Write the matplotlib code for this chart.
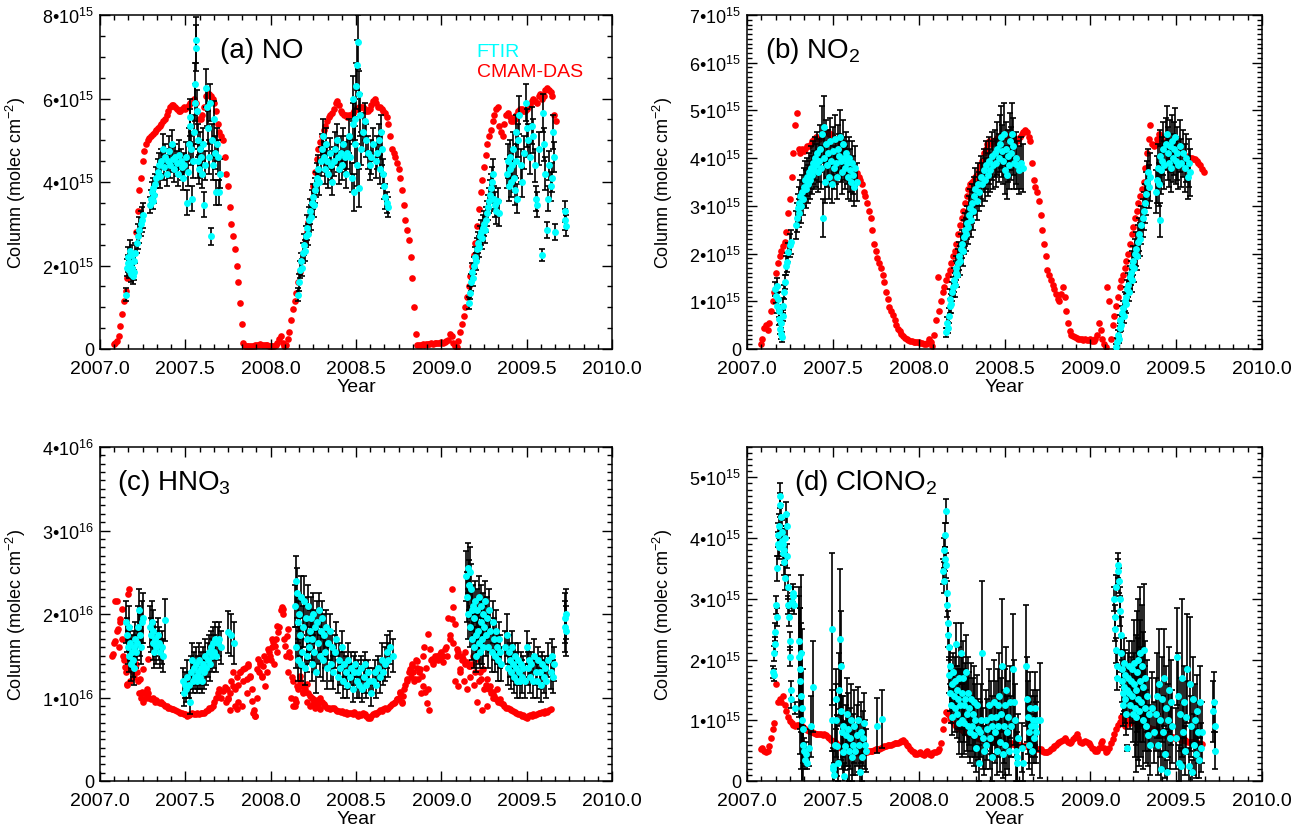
import numpy as np
import matplotlib
matplotlib.use('Agg')
import matplotlib.pyplot as plt
from matplotlib.ticker import MultipleLocator, FuncFormatter

plt.rcParams['font.family'] = ['Liberation Sans', 'DejaVu Sans']
plt.rcParams['mathtext.fontset'] = 'custom'
plt.rcParams['mathtext.rm'] = 'Liberation Sans'
plt.rcParams['mathtext.it'] = 'Liberation Sans:italic'
plt.rcParams['mathtext.bf'] = 'Liberation Sans:bold'

STEP = 0.01  # spacing of the model (CMAM-DAS) output, years

# ---------------- (a) NO, 1e15 molec cm-2 ----------------
red_no_start = 2007.08
red_no = [
    0.12, 0.15,
    0.2, 0.3, 0.55, 0.85, 1.15, 1.4, 1.7, 1.9, 2.0, 2.1,
    2.3, 2.8, 3.3, 3.8, 4.1, 4.5, 4.75, 4.9, 5.0, 5.05,
    5.1, 5.15, 5.2, 5.25, 5.3, 5.35, 5.4, 5.45, 5.5, 5.6,
    5.7, 5.8, 5.85, 5.85, 5.8, 5.75, 5.7, 5.7, 5.75, 5.8,
    5.75, 5.8, 5.85, 5.9, 5.95, 6.0, 5.9, 5.7, 5.5, 5.5,
    5.6, 5.8, 6.05, 6.1, 6.1, 6.05, 6.0, 5.9, 5.7, 5.4,
    5.2, 5.1, 5.0, 4.6, 4.2, 3.9, 3.4, 3.0, 2.7, 2.4,
    2.0, 1.6, 1.1, 0.6, 0.15, 0.08, 0.08, 0.07, 0.08, 0.06,
    0.08, 0.1, 0.09, 0.1, 0.12, 0.1, 0.1, 0.09, 0.1, 0.08,
    0.07, 0.06, 0.08, 0.1, 0.15, 0.25, 0.3, 0.15, 0.08, 0.1,
    0.25, 0.4, 0.7, 0.95, 1.15, 1.35, 1.6, 1.85, 2.1, 2.3,
    2.55, 2.8, 3.05, 3.3, 3.6, 3.9, 4.25, 4.55, 4.8, 4.95,
    5.1, 5.25, 5.35, 5.45, 5.55, 5.6, 5.65, 5.75, 5.9, 5.95,
    5.85, 5.7, 5.65, 5.6, 5.6, 5.55, 5.6, 5.6, 5.65, 5.7,
    5.75, 5.75, 5.8, 5.8, 5.8, 5.75, 5.7, 5.7, 5.75, 5.85,
    5.95, 6.0, 5.9, 5.8, 5.8, 5.75, 5.7, 5.65, 5.55, 5.4,
    5.1, 4.8, 4.7, 4.6, 4.45, 4.3, 4.1, 3.8, 3.45, 3.1,
    2.85, 2.6, 2.2, 1.7, 1.0, 0.35, 0.1, 0.1, 0.1, 0.12,
    0.1, 0.12, 0.13, 0.12, 0.14, 0.13, 0.15, 0.14, 0.15, 0.14,
    0.16, 0.15, 0.16, 0.18, 0.22, 0.35, 0.3, 0.15, 0.08, 0.05,
    0.2, 0.4, 0.6, 0.8, 1.0, 1.25, 1.5, 1.75, 2.0, 2.25,
    2.55, 2.95, 3.35, 3.75, 4.05, 4.35, 4.65, 4.9, 5.1, 5.25,
    5.45, 5.6, 5.75, 5.8, 5.35, 5.2, 5.1, 5.4, 5.6, 5.65,
    5.55, 5.45, 5.45, 5.5, 5.6, 5.7, 5.75, 5.75, 5.7, 5.7,
    5.75, 5.8, 5.85, 5.95, 6.0, 5.95, 5.9, 6.05, 6.1, 6.0,
    6.05, 6.2, 6.25, 6.2, 6.15, 6.05, 5.6, 5.45,
]
ftir_no_year = [
    2007.152, 2007.158, 2007.162, 2007.166, 2007.170, 2007.174, 2007.178, 2007.182, 2007.186, 2007.190,
    2007.194, 2007.198, 2007.202, 2007.206, 2007.214, 2007.222, 2007.230, 2007.238, 2007.246, 2007.254,
    2007.293, 2007.298, 2007.303, 2007.308, 2007.313, 2007.318, 2007.323, 2007.330, 2007.338, 2007.345,
    2007.352, 2007.360, 2007.368, 2007.375, 2007.383, 2007.390, 2007.398, 2007.405, 2007.412, 2007.420,
    2007.428, 2007.435, 2007.442, 2007.450, 2007.458, 2007.465, 2007.472, 2007.480, 2007.488, 2007.495,
    2007.502,
    2007.510, 2007.515, 2007.520, 2007.525, 2007.530, 2007.535, 2007.540, 2007.545, 2007.550, 2007.555,
    2007.558, 2007.561, 2007.564, 2007.568, 2007.572, 2007.576, 2007.580, 2007.585,
    2007.592, 2007.598, 2007.604, 2007.610, 2007.616, 2007.622, 2007.628, 2007.634, 2007.640, 2007.646,
    2007.652, 2007.658, 2007.664, 2007.670, 2007.676, 2007.682, 2007.688, 2007.694, 2007.700, 2007.706,
    2008.160, 2008.166, 2008.172, 2008.178, 2008.184, 2008.190, 2008.196, 2008.202, 2008.208, 2008.214,
    2008.220, 2008.226, 2008.232, 2008.238, 2008.244, 2008.250, 2008.256, 2008.262, 2008.268, 2008.274,
    2008.280, 2008.286, 2008.292, 2008.298, 2008.304, 2008.310, 2008.316, 2008.322, 2008.330, 2008.338,
    2008.346, 2008.354, 2008.362, 2008.370, 2008.378, 2008.386, 2008.394, 2008.402, 2008.410, 2008.418,
    2008.426, 2008.434, 2008.442, 2008.450, 2008.458, 2008.466, 2008.474, 2008.480, 2008.484, 2008.488,
    2008.492, 2008.496, 2008.500, 2008.504, 2008.508, 2008.512, 2008.516, 2008.520, 2008.524, 2008.530,
    2008.540, 2008.550, 2008.560, 2008.570, 2008.580, 2008.590, 2008.600, 2008.615, 2008.625, 2008.635,
    2008.642, 2008.648, 2008.654, 2008.660, 2008.666, 2008.672, 2008.680, 2008.688,
    2009.160, 2009.166, 2009.172, 2009.178, 2009.184, 2009.190, 2009.196, 2009.202, 2009.208, 2009.214,
    2009.220, 2009.226, 2009.232, 2009.238, 2009.244, 2009.250, 2009.256, 2009.262, 2009.268, 2009.274,
    2009.280, 2009.286, 2009.292, 2009.298, 2009.304, 2009.310, 2009.316, 2009.322, 2009.330, 2009.338,
    2009.385, 2009.390, 2009.395, 2009.400, 2009.405, 2009.410, 2009.415, 2009.420, 2009.425, 2009.430,
    2009.435, 2009.440, 2009.445, 2009.450, 2009.455, 2009.465, 2009.475, 2009.485, 2009.495, 2009.500,
    2009.510, 2009.520, 2009.530, 2009.540, 2009.548, 2009.556, 2009.562, 2009.575, 2009.588, 2009.596,
    2009.602, 2009.610, 2009.617, 2009.624, 2009.632, 2009.640, 2009.647, 2009.656, 2009.660, 2009.666,
    2009.722, 2009.725, 2009.728,
]
ftir_no_val = [
    1.3, 1.95, 2.05, 2.2, 1.9, 2.35, 2.05, 1.8, 2.25, 1.95,
    1.75, 2.1, 1.85, 2.3, 2.55, 2.7, 2.85, 3.0, 3.1, 3.2,
    3.45, 3.6, 3.75, 3.55, 3.85, 3.7, 3.95, 4.1, 4.25, 4.4,
    4.15, 4.5, 4.8, 4.35, 4.6, 4.2, 4.5, 4.75, 4.4, 4.9,
    4.55, 4.3, 4.6, 4.45, 4.2, 4.65, 4.5, 4.35, 4.1, 4.4,
    4.6,
    3.5, 4.25, 4.9, 5.35, 5.55, 4.8, 3.6, 4.5, 5.2, 5.9,
    6.35, 7.2, 7.4, 5.7, 4.5, 5.0, 4.3, 4.8,
    4.6, 4.2, 4.9, 3.45, 4.4, 6.25, 5.8, 5.3, 4.6, 5.9,
    2.7, 5.0, 4.4, 5.5, 4.7, 3.75, 4.9, 4.6, 3.75, 4.2,
    1.3, 1.6, 1.9, 2.1, 1.95, 2.3, 2.5, 2.35, 2.7, 2.9,
    2.75, 3.1, 3.3, 3.15, 3.5, 3.65, 3.45, 3.8, 3.95, 4.1,
    4.3, 4.0, 4.5, 4.8, 5.1, 4.6, 4.3, 4.9, 4.5, 4.2,
    4.7, 4.4, 4.0, 4.5, 4.8, 5.0, 4.6, 4.3, 4.7, 4.4,
    4.9, 4.6, 4.2, 4.7, 5.1, 4.6, 4.1, 5.4, 6.0, 3.75,
    4.9, 5.5, 6.3, 4.4, 6.8, 7.35, 6.1, 3.85, 5.6, 4.8,
    5.2, 5.45, 5.0, 4.7, 4.4, 4.6, 4.9, 4.5, 4.7, 5.0,
    4.3, 5.2, 4.8, 4.2, 3.9, 3.65, 3.5, 3.4,
    1.1, 1.35, 1.6, 1.85, 1.7, 2.0, 2.2, 2.1, 2.4, 2.55,
    2.45, 2.7, 2.8, 2.65, 2.9, 3.0, 2.85, 3.1, 3.25, 3.4,
    3.55, 3.7, 3.85, 4.0, 4.2, 3.6, 3.45, 3.3, 3.55, 3.25,
    4.2, 4.5, 3.9, 4.3, 4.6, 4.0, 4.4, 4.8, 4.1, 3.8,
    5.2, 4.5, 3.6, 5.0, 5.6, 4.4, 4.0, 4.7, 5.9, 5.3,
    5.0, 4.6, 5.35, 5.1, 4.4, 3.6, 3.45, 4.8, 2.25, 5.65,
    4.9, 4.2, 2.85, 3.6, 4.4, 3.9, 4.1, 5.2, 4.6, 2.8,
    3.1, 3.3, 2.95,
]
ftir_no_err = [
    0.15, 0.2, 0.2, 0.25, 0.2, 0.25, 0.2, 0.2, 0.25, 0.2,
    0.2, 0.2, 0.2, 0.25, 0.25, 0.3, 0.3, 0.3, 0.3, 0.3,
    0.2, 0.2, 0.25, 0.2, 0.25, 0.2, 0.25, 0.25, 0.3, 0.3,
    0.3, 0.3, 0.35, 0.3, 0.3, 0.3, 0.3, 0.35, 0.3, 0.35,
    0.3, 0.3, 0.3, 0.3, 0.3, 0.35, 0.3, 0.3, 0.3, 0.3,
    0.35,
    0.3, 0.35, 0.4, 0.4, 0.45, 0.4, 0.3, 0.4, 0.4, 0.45,
    0.5, 0.55, 0.55, 0.5, 0.4, 0.4, 0.35, 0.4,
    0.4, 0.35, 0.4, 0.3, 0.35, 0.45, 0.45, 0.4, 0.4, 0.45,
    0.2, 0.4, 0.35, 0.45, 0.4, 0.3, 0.4, 0.4, 0.3, 0.35,
    0.15, 0.2, 0.2, 0.2, 0.2, 0.25, 0.25, 0.25, 0.25, 0.3,
    0.25, 0.3, 0.3, 0.3, 0.3, 0.3, 0.3, 0.3, 0.3, 0.35,
    0.35, 0.3, 0.35, 0.35, 0.4, 0.35, 0.35, 0.4, 0.35, 0.35,
    0.35, 0.35, 0.3, 0.35, 0.4, 0.4, 0.35, 0.35, 0.4, 0.35,
    0.4, 0.35, 0.35, 0.4, 0.4, 0.4, 0.35, 0.5, 0.55, 0.45,
    0.45, 0.5, 0.55, 0.5, 0.6, 0.65, 0.55, 0.45, 0.5, 0.4,
    0.45, 0.45, 0.4, 0.4, 0.35, 0.4, 0.4, 0.4, 0.4, 0.4,
    0.35, 0.4, 0.4, 0.35, 0.3, 0.3, 0.25, 0.25,
    0.15, 0.15, 0.2, 0.2, 0.2, 0.2, 0.25, 0.2, 0.25, 0.25,
    0.25, 0.25, 0.3, 0.25, 0.3, 0.3, 0.3, 0.3, 0.3, 0.3,
    0.3, 0.35, 0.35, 0.35, 0.35, 0.3, 0.3, 0.3, 0.3, 0.3,
    0.35, 0.4, 0.35, 0.35, 0.4, 0.35, 0.35, 0.4, 0.35, 0.35,
    0.4, 0.4, 0.35, 0.4, 0.45, 0.4, 0.35, 0.4, 0.45, 0.45,
    0.4, 0.4, 0.45, 0.4, 0.4, 0.3, 0.3, 0.4, 0.15, 0.45,
    0.4, 0.4, 0.2, 0.3, 0.35, 0.35, 0.35, 0.4, 0.35, 0.2,
    0.25, 0.25, 0.25,
]

# ---------------- (b) NO2, 1e15 molec cm-2 ----------------
red_no2_start = 2007.08
red_no2 = [
    0.1, 0.2,
    0.45, 0.5, 0.4, 0.55, 0.8, 1.0, 1.2, 1.6, 1.8, 1.95,
    2.05, 2.15, 2.25, 2.45, 2.85, 3.15, 3.6, 4.1, 4.7, 4.95,
    4.2, 4.1, 4.2, 4.15, 4.2, 4.25, 4.25, 4.3, 4.35, 4.4,
    4.45, 4.45, 4.4, 4.45, 4.5, 4.55, 4.55, 4.55, 4.5, 4.5,
    4.45, 4.4, 4.4, 4.35, 4.25, 4.2, 4.15, 4.1, 4.05, 4.0,
    3.9, 3.85, 3.78, 3.72, 3.68, 3.6, 3.55, 3.45, 3.3, 3.2,
    3.05, 2.9, 2.75, 2.5, 2.2, 2.05, 1.9, 1.8, 1.7, 1.55,
    1.4, 1.2, 1.05, 0.88, 0.8, 0.72, 0.6, 0.5, 0.42, 0.38,
    0.32, 0.28, 0.24, 0.21, 0.19, 0.17, 0.16, 0.15, 0.15, 0.14,
    0.14, 0.13, 0.12, 0.1, 0.1, 0.12, 0.2, 0.15, 0.06, 0.3,
    0.6, 1.5, 0.8, 1.0, 1.2, 1.3, 1.45, 1.55, 1.65, 1.8,
    1.95, 2.05, 2.2, 2.4, 2.6, 2.75, 2.9, 3.05, 3.2, 3.35,
    3.45, 3.5, 3.55, 3.6, 3.65, 3.75, 3.85, 3.95, 4.1, 4.2,
    4.3, 4.35, 4.3, 4.35, 4.35, 4.4, 4.45, 4.4, 4.45, 4.5,
    4.45, 4.5, 4.45, 4.4, 4.4, 4.45, 4.4, 4.35, 4.4, 4.45,
    4.5, 4.55, 4.6, 4.55, 4.45, 4.35, 3.9, 3.55, 3.4, 3.3,
    3.1, 2.8, 2.5, 2.2, 1.95, 1.65, 1.55, 1.45, 1.35, 1.25,
    1.15, 1.05, 1.0, 1.15, 1.3, 1.1, 0.8, 0.55, 0.38, 0.3,
    0.27, 0.25, 0.24, 0.22, 0.2, 0.2, 0.19, 0.2, 0.18, 0.19,
    0.2, 0.17, 0.17, 0.2, 0.3, 0.55, 0.4, 0.2, 0.1, 0.05,
    1.3, 1.0, 0.2, 0.5, 0.7, 0.9, 1.1, 1.3, 1.45, 1.55,
    1.7, 1.85, 2.0, 2.2, 2.4, 2.55, 2.75, 2.9, 3.05, 3.2,
    3.35, 3.5, 3.8, 4.1, 4.4, 4.7, 4.3, 4.25, 4.3, 4.4,
    4.5, 4.45, 4.35, 4.3, 4.3, 4.35, 4.3, 4.3, 4.35, 4.3,
    4.25, 4.2, 4.15, 4.1, 4.1, 4.05, 4.05, 4.0, 4.0, 4.0,
    3.98, 3.98, 3.95, 3.9, 3.85, 3.78, 3.7,
]
ftir_no2_year = [
    2007.163, 2007.168, 2007.172, 2007.176, 2007.180, 2007.184, 2007.188, 2007.192, 2007.196, 2007.200,
    2007.204, 2007.208, 2007.212, 2007.216, 2007.220, 2007.226, 2007.232, 2007.240, 2007.248, 2007.256,
    2007.285, 2007.290, 2007.295, 2007.300, 2007.305, 2007.310, 2007.315, 2007.320, 2007.325, 2007.330,
    2007.336, 2007.342, 2007.348, 2007.354, 2007.360, 2007.366, 2007.372, 2007.378, 2007.384, 2007.390,
    2007.396, 2007.402, 2007.408, 2007.414, 2007.420, 2007.426, 2007.432, 2007.438, 2007.442, 2007.446,
    2007.450, 2007.455, 2007.460, 2007.465, 2007.470, 2007.476, 2007.482, 2007.488, 2007.494, 2007.500,
    2007.506, 2007.512, 2007.518, 2007.524, 2007.530, 2007.536, 2007.542, 2007.548, 2007.554, 2007.560,
    2007.566, 2007.572, 2007.578, 2007.584, 2007.590, 2007.596, 2007.602, 2007.608, 2007.614, 2007.620,
    2007.626, 2007.632, 2007.638,
    2008.162, 2008.166, 2008.170, 2008.175, 2008.180, 2008.185, 2008.190, 2008.195, 2008.200, 2008.205,
    2008.210, 2008.215, 2008.220, 2008.225, 2008.230, 2008.235, 2008.240, 2008.245, 2008.250, 2008.256,
    2008.262, 2008.268, 2008.274, 2008.280, 2008.286, 2008.292, 2008.298, 2008.304, 2008.310, 2008.316,
    2008.322, 2008.330, 2008.338, 2008.346, 2008.354, 2008.362, 2008.370, 2008.378, 2008.386, 2008.394,
    2008.402, 2008.410, 2008.418, 2008.426, 2008.434, 2008.442, 2008.450, 2008.458, 2008.466, 2008.474,
    2008.480, 2008.486, 2008.492, 2008.498, 2008.504, 2008.510, 2008.516, 2008.522, 2008.528, 2008.534,
    2008.540, 2008.546, 2008.552, 2008.558, 2008.566, 2008.575, 2008.585, 2008.595, 2008.605,
    2009.150, 2009.155, 2009.160, 2009.165, 2009.170, 2009.175, 2009.180, 2009.185, 2009.190, 2009.195,
    2009.200, 2009.205, 2009.210, 2009.215, 2009.220, 2009.225, 2009.230, 2009.235, 2009.240, 2009.245,
    2009.250, 2009.256, 2009.262, 2009.268, 2009.274, 2009.280, 2009.286, 2009.292, 2009.298, 2009.304,
    2009.310, 2009.316, 2009.322, 2009.328, 2009.334, 2009.340, 2009.346, 2009.380, 2009.386, 2009.392,
    2009.398, 2009.404, 2009.408, 2009.414, 2009.420, 2009.426, 2009.432, 2009.438, 2009.444, 2009.450,
    2009.456, 2009.462, 2009.468, 2009.474, 2009.480, 2009.486, 2009.492, 2009.498, 2009.504, 2009.510,
    2009.520, 2009.530, 2009.540, 2009.550, 2009.560, 2009.570, 2009.575, 2009.580,
]
ftir_no2_val = [
    1.26, 1.12, 1.33, 0.91, 1.05, 0.63, 0.8, 0.42, 0.55, 0.31,
    0.25, 0.7, 0.91, 1.19, 1.4, 1.75, 1.82, 2.03, 2.17, 2.24,
    2.6, 2.75, 2.95, 2.85, 3.05, 3.2, 3.0, 3.3, 3.15, 3.4,
    3.55, 3.35, 3.6, 3.45, 3.7, 3.55, 3.8, 3.65, 3.9, 3.75,
    4.0, 3.85, 4.1, 3.7, 3.95, 4.2, 3.8, 4.5, 2.75, 4.65,
    4.0, 3.5, 4.3, 3.85, 4.1, 3.6, 4.35, 3.95, 3.45, 4.15,
    3.8, 4.4, 3.9, 3.6, 4.2, 4.05, 4.45, 3.95, 3.7, 4.3,
    4.0, 3.8, 4.1, 3.9, 3.6, 4.0, 3.75, 3.5, 3.9, 3.65,
    3.4, 3.8, 3.5,
    0.35, 0.55, 0.45, 0.7, 0.9, 1.05, 0.95, 1.2, 1.3, 1.45,
    1.35, 1.6, 1.7, 1.55, 1.8, 1.95, 1.85, 2.1, 2.2, 2.05,
    2.35, 2.5, 2.4, 2.65, 2.55, 2.8, 2.95, 2.7, 3.05, 2.9,
    3.2, 3.35, 3.1, 3.45, 3.3, 3.6, 3.45, 3.75, 3.55, 3.85,
    3.65, 3.95, 3.75, 4.05, 3.85, 4.1, 3.9, 4.2, 4.0, 4.3,
    4.45, 4.15, 3.95, 4.5, 3.75, 4.2, 3.65, 4.05, 3.85, 4.35,
    4.1, 4.5, 4.25, 3.9, 4.0, 3.85, 3.75, 3.9, 3.8,
    0.05, 0.15, 0.3, 0.2, 0.45, 0.6, 0.5, 0.75, 0.85, 0.7,
    1.0, 1.1, 0.95, 1.25, 1.35, 1.2, 1.5, 1.6, 1.45, 1.75,
    1.85, 1.7, 2.0, 2.1, 1.95, 2.25, 2.4, 2.3, 2.6, 2.75,
    2.9, 3.05, 3.25, 3.5, 3.7, 3.4, 3.6, 3.3, 3.55, 3.8,
    3.45, 2.7, 4.05, 3.75, 3.95, 4.2, 3.85, 4.3, 4.5, 4.1,
    3.9, 4.25, 3.8, 4.35, 4.0, 4.2, 4.45, 3.95, 4.1, 3.85,
    4.25, 3.9, 4.1, 3.8, 4.0, 3.6, 3.9, 3.7,
]
ftir_no2_err = [
    0.15, 0.15, 0.15, 0.15, 0.15, 0.12, 0.12, 0.1, 0.1, 0.1,
    0.1, 0.12, 0.15, 0.15, 0.15, 0.2, 0.2, 0.2, 0.25, 0.25,
    0.3, 0.3, 0.3, 0.3, 0.35, 0.35, 0.35, 0.35, 0.35, 0.4,
    0.4, 0.4, 0.4, 0.4, 0.4, 0.4, 0.45, 0.4, 0.45, 0.4,
    0.45, 0.45, 0.45, 0.4, 0.45, 0.5, 0.45, 0.6, 0.4, 0.65,
    0.5, 0.45, 0.5, 0.45, 0.5, 0.45, 0.5, 0.45, 0.4, 0.5,
    0.45, 0.5, 0.45, 0.45, 0.5, 0.45, 0.55, 0.45, 0.45, 0.5,
    0.45, 0.45, 0.45, 0.45, 0.45, 0.45, 0.45, 0.4, 0.45, 0.4,
    0.4, 0.45, 0.4,
    0.1, 0.12, 0.12, 0.15, 0.15, 0.2, 0.2, 0.2, 0.2, 0.25,
    0.25, 0.25, 0.25, 0.25, 0.3, 0.3, 0.3, 0.3, 0.3, 0.3,
    0.35, 0.35, 0.35, 0.35, 0.35, 0.4, 0.4, 0.35, 0.4, 0.4,
    0.4, 0.45, 0.4, 0.45, 0.4, 0.45, 0.45, 0.45, 0.45, 0.5,
    0.45, 0.5, 0.45, 0.5, 0.5, 0.5, 0.5, 0.55, 0.5, 0.6,
    0.65, 0.55, 0.5, 0.65, 0.5, 0.55, 0.5, 0.55, 0.5, 0.6,
    0.55, 0.65, 0.6, 0.55, 0.55, 0.5, 0.5, 0.55, 0.5,
    0.05, 0.08, 0.1, 0.08, 0.1, 0.12, 0.12, 0.15, 0.15, 0.15,
    0.2, 0.2, 0.2, 0.2, 0.25, 0.2, 0.25, 0.25, 0.25, 0.3,
    0.3, 0.3, 0.3, 0.35, 0.3, 0.35, 0.35, 0.35, 0.4, 0.4,
    0.4, 0.4, 0.45, 0.45, 0.5, 0.45, 0.5, 0.45, 0.5, 0.5,
    0.45, 0.35, 0.55, 0.5, 0.5, 0.55, 0.5, 0.55, 0.6, 0.55,
    0.5, 0.55, 0.5, 0.55, 0.5, 0.55, 0.6, 0.5, 0.55, 0.5,
    0.55, 0.5, 0.5, 0.5, 0.5, 0.45, 0.5, 0.5,
]

# ---------------- (c) HNO3, 1e16 molec cm-2 ----------------
red_hno3_start = 2007.07
red_hno3 = [
    1.5, 1.65, 2.15,
    1.8, 1.6, 1.9, 1.7, 1.45, 1.3, 1.15, 2.3, 1.35, 1.5,
    1.25, 1.4, 1.2, 1.05, 1.0, 0.95, 1.05, 1.0, 1.05, 1.0,
    0.98, 1.0, 0.95, 0.97, 0.95, 0.93, 0.95, 0.92, 0.9, 0.9,
    0.88, 0.88, 0.86, 0.86, 0.85, 0.84, 0.83, 0.82, 0.81, 0.8,
    0.8, 0.78, 0.79, 0.8, 0.81, 0.8, 0.8, 0.81, 0.8, 0.82,
    0.81, 0.82, 0.84, 0.85, 0.87, 0.88, 0.9, 0.95, 1.0, 1.05,
    1.1, 1.0, 1.08, 1.12, 0.95, 1.0, 0.85, 1.2, 1.3, 1.1,
    1.25, 1.15, 1.3, 0.9, 1.2, 1.35, 1.05, 1.4, 1.25, 1.1,
    0.85, 0.78, 1.0, 1.3, 1.4, 1.25, 1.5, 1.45, 1.3, 1.55,
    1.45, 1.6, 1.4, 1.7, 1.55, 1.85, 2.05, 2.0, 1.7, 1.5,
    1.3, 1.55, 1.0, 1.2, 0.9, 0.95, 1.1, 1.2, 1.15, 1.05,
    1.1, 0.95, 1.05, 0.9, 1.0, 0.92, 0.88, 0.97, 0.9, 1.0,
    0.95, 0.92, 0.9, 0.88, 0.87, 0.86, 0.88, 0.87, 0.85, 0.84,
    0.84, 0.83, 0.84, 0.82, 0.83, 0.8, 0.82, 0.81, 0.8, 0.83,
    0.8, 0.78, 0.8, 0.79, 0.82, 0.8, 0.78, 0.76, 0.75, 0.78,
    0.8, 0.82, 0.8, 0.83, 0.85, 0.84, 0.86, 0.87, 0.86, 0.88,
    0.9, 0.92, 0.94, 0.95, 0.98, 1.0, 1.05, 0.95, 1.1, 1.15,
    1.2, 1.3, 1.25, 1.4, 1.2, 1.45, 1.35, 1.3, 1.05, 1.5,
    1.6, 1.35, 1.1, 0.85, 1.45, 1.4, 1.5, 1.48, 1.45, 1.52,
    1.55, 1.5, 1.58, 1.6, 1.95, 1.75, 2.3, 1.65, 1.2, 1.5,
    1.55, 1.3, 1.45, 1.2, 1.4, 1.1, 1.38, 1.25, 1.4, 1.15,
    1.3, 0.95, 1.2, 1.22, 0.85, 1.1, 1.15, 0.9, 1.1, 1.05,
    1.0, 1.02, 0.98, 0.95, 0.96, 0.93, 0.92, 0.9, 0.88, 0.87,
    0.86, 0.85, 0.84, 0.83, 0.82, 0.8, 0.8, 0.78, 0.79, 0.77,
    0.76, 0.78, 0.79, 0.78, 0.8, 0.79, 0.8, 0.81, 0.82, 0.83,
    0.82, 0.84, 0.83, 0.85, 0.86,
]
# scattered model days in the noisy spring/autumn periods
red_hno3_extra_year = [
    2007.078, 2007.088, 2007.098, 2007.107, 2007.117, 2007.127, 2007.137, 2007.146, 2007.156, 2007.166,
    2007.176, 2007.195, 2007.215, 2007.234, 2007.244, 2007.254, 2007.273, 2007.283,
    2007.742, 2007.752, 2007.762, 2007.781, 2007.791, 2007.801, 2007.811, 2007.820, 2007.840, 2007.859,
    2007.869, 2007.879, 2007.889, 2007.898, 2007.908, 2007.918, 2007.928, 2007.938, 2007.947, 2007.957,
    2007.967, 2007.977, 2007.986, 2007.996, 2008.006, 2008.016, 2008.025, 2008.035, 2008.045, 2008.064,
    2008.074, 2008.084, 2008.094, 2008.104, 2008.113, 2008.123, 2008.133, 2008.143, 2008.152, 2008.172,
    2008.182, 2008.191, 2008.211, 2008.230, 2008.250, 2008.270, 2008.289,
    2008.738, 2008.758, 2008.768, 2008.777, 2008.797, 2008.816, 2008.826, 2008.836, 2008.846, 2008.855,
    2008.865, 2008.875, 2008.885, 2008.895, 2008.904, 2008.914, 2008.924, 2008.934, 2008.943, 2008.953,
    2008.973, 2008.992, 2009.012, 2009.031, 2009.051, 2009.061, 2009.070, 2009.080, 2009.090, 2009.100,
    2009.109, 2009.119, 2009.129, 2009.139, 2009.148, 2009.168, 2009.188, 2009.207, 2009.227, 2009.246,
    2009.266, 2009.285, 2009.305, 2009.324, 2009.344,
]
red_hno3_extra_val = [
    1.52, 1.68, 2.16, 1.82, 1.94, 2.06, 1.5, 1.36, 1.16, 2.24,
    1.2, 1.3, 1.3, 1.22, 1.06, 1.34, 1.1, 1.46,
    1.1, 0.98, 1.05, 1.14, 0.9, 0.86, 0.95, 1.3, 1.34, 1.22,
    1.38, 1.26, 0.96, 0.82, 0.78, 1.34, 1.46, 1.42, 1.26, 1.38,
    1.14, 1.46, 1.58, 1.5, 1.7, 1.66, 1.62, 1.86, 1.78, 2.08,
    2.06, 1.62, 1.74, 1.82, 1.48, 1.24, 0.9, 0.98, 1.14, 1.26,
    1.14, 1.06, 1.16, 1.02, 0.98, 0.94, 0.86,
    0.98, 1.06, 0.94, 1.02, 1.22, 1.34, 1.38, 1.3, 1.22, 1.44,
    1.22, 1.34, 1.26, 1.14, 1.06, 0.94, 1.76, 1.58, 1.46, 1.42,
    1.5, 1.46, 1.42, 1.5, 1.7, 1.94, 2.08, 1.88, 1.58, 1.14,
    1.34, 1.5, 1.46, 1.54, 1.42, 1.38, 1.5, 1.46, 1.3, 1.34,
    1.22, 1.14, 1.06, 1.1, 0.98,
]
ftir_hno3_year = [
    2007.152, 2007.157, 2007.162, 2007.167, 2007.172, 2007.177, 2007.182, 2007.187, 2007.192, 2007.197,
    2007.202, 2007.207, 2007.212, 2007.217, 2007.222, 2007.227, 2007.232, 2007.238, 2007.244, 2007.250,
    2007.293, 2007.298, 2007.303, 2007.308, 2007.313, 2007.318, 2007.323, 2007.330, 2007.338, 2007.346,
    2007.354, 2007.362, 2007.370, 2007.381,
    2007.488, 2007.492, 2007.497, 2007.505, 2007.512, 2007.520, 2007.527, 2007.533, 2007.540, 2007.546,
    2007.552, 2007.558, 2007.564, 2007.570, 2007.576, 2007.582, 2007.588, 2007.594, 2007.600, 2007.606,
    2007.612, 2007.618, 2007.624, 2007.630, 2007.636, 2007.642, 2007.648, 2007.654, 2007.660, 2007.666,
    2007.672, 2007.680, 2007.690, 2007.700, 2007.708,
    2007.750, 2007.765, 2007.785,
    2008.142, 2008.146, 2008.150, 2008.154, 2008.158, 2008.162, 2008.166, 2008.170, 2008.175, 2008.180,
    2008.185, 2008.190, 2008.195, 2008.200, 2008.205, 2008.210, 2008.215, 2008.220, 2008.225, 2008.230,
    2008.235, 2008.240, 2008.245, 2008.250, 2008.255, 2008.260, 2008.266, 2008.272, 2008.278, 2008.284,
    2008.290, 2008.296, 2008.302, 2008.308, 2008.314, 2008.320, 2008.326, 2008.332, 2008.338, 2008.345,
    2008.352, 2008.360, 2008.368, 2008.376, 2008.384, 2008.392, 2008.400, 2008.408, 2008.416, 2008.424,
    2008.432, 2008.440, 2008.448, 2008.456, 2008.464, 2008.472, 2008.480, 2008.488, 2008.496, 2008.504,
    2008.512, 2008.520, 2008.528, 2008.536, 2008.544, 2008.552, 2008.560, 2008.568, 2008.576, 2008.590,
    2008.600, 2008.610, 2008.620, 2008.630, 2008.640, 2008.650, 2008.660, 2008.670, 2008.680, 2008.690,
    2008.700, 2008.715,
    2009.146, 2009.150, 2009.154, 2009.158, 2009.162, 2009.166, 2009.170, 2009.174, 2009.178, 2009.182,
    2009.186, 2009.190, 2009.194, 2009.198, 2009.202, 2009.206, 2009.210, 2009.214, 2009.218, 2009.222,
    2009.226, 2009.230, 2009.234, 2009.238, 2009.242, 2009.246, 2009.252, 2009.258, 2009.264, 2009.270,
    2009.276, 2009.282, 2009.288, 2009.294, 2009.300, 2009.306, 2009.312, 2009.318, 2009.324, 2009.330,
    2009.336, 2009.342, 2009.350, 2009.375, 2009.382, 2009.388, 2009.394, 2009.400, 2009.406, 2009.412,
    2009.418, 2009.424, 2009.430, 2009.436, 2009.442, 2009.448, 2009.454, 2009.460, 2009.466, 2009.472,
    2009.480, 2009.490, 2009.500, 2009.506, 2009.512, 2009.520, 2009.528, 2009.536, 2009.544, 2009.552,
    2009.560, 2009.568, 2009.576, 2009.584, 2009.592, 2009.600, 2009.608, 2009.616, 2009.624, 2009.640,
    2009.650, 2009.656, 2009.662, 2009.722, 2009.725, 2009.728, 2009.731,
]
ftir_hno3_val = [
    1.9, 1.75, 1.6, 1.85, 1.5, 1.65, 1.4, 1.55, 1.45, 1.35,
    1.6, 1.7, 1.55, 1.65, 1.85, 2.05, 1.75, 1.6, 1.9, 1.95,
    1.85, 1.75, 1.9, 1.65, 1.8, 1.55, 1.7, 1.6, 1.75, 1.65,
    1.55, 1.6, 1.5, 1.93,
    1.2, 1.05, 1.15, 1.1, 1.25, 1.15, 0.95, 1.3, 1.45, 1.2,
    1.35, 1.25, 1.4, 1.2, 1.3, 1.45, 1.25, 1.35, 1.2, 1.4,
    1.3, 1.5, 1.35, 1.45, 1.55, 1.4, 1.6, 1.5, 1.65, 1.55,
    1.7, 1.5, 1.65, 1.7, 1.6,
    1.78, 1.75, 1.65,
    2.1, 2.4, 1.6, 2.25, 1.9, 1.45, 2.0, 1.75, 1.4, 2.2,
    1.55, 1.85, 2.15, 1.35, 1.95, 1.7, 1.5, 2.1, 1.6, 1.8,
    1.95, 1.4, 1.7, 2.0, 1.55, 1.85, 1.3, 1.9, 1.65, 2.05,
    1.5, 1.8, 1.95, 1.45, 1.75, 1.55, 1.85, 1.35, 1.65, 1.8,
    1.4, 1.6, 1.3, 1.55, 1.7, 1.25, 1.45, 1.35, 1.6, 1.2,
    1.4, 1.3, 1.15, 1.45, 1.25, 1.35, 1.1, 1.3, 1.4, 1.2,
    1.3, 1.15, 1.35, 1.1, 1.25, 1.4, 1.15, 1.3, 1.2, 1.05,
    1.2, 1.3, 1.15, 1.35, 1.25, 1.45, 1.3, 1.4, 1.55, 1.45,
    1.6, 1.5,
    2.45, 2.2, 2.55, 2.0, 2.35, 2.5, 1.85, 2.3, 2.05, 1.7,
    2.1, 1.6, 1.95, 2.15, 1.75, 1.5, 2.05, 1.8, 1.65, 2.2,
    1.55, 1.9, 2.1, 1.7, 2.0, 1.6, 1.85, 2.15, 1.75, 1.95,
    1.6, 2.05, 1.8, 1.55, 1.9, 1.7, 1.5, 1.8, 1.6, 1.45,
    1.7, 1.55, 1.4, 1.6, 1.75, 1.35, 1.55, 1.45, 1.3, 1.6,
    1.4, 1.25, 1.5, 1.35, 1.2, 1.45, 1.3, 1.2, 1.4, 1.25,
    1.35, 1.2, 1.6, 1.35, 1.45, 1.25, 1.4, 1.2, 1.5, 1.3,
    1.2, 1.45, 1.3, 1.15, 1.4, 1.25, 1.35, 1.2, 1.45, 1.3,
    1.5, 1.25, 1.4, 1.85, 1.95, 2.0, 1.8,
]
ftir_hno3_err = [
    0.25, 0.2, 0.2, 0.25, 0.2, 0.2, 0.2, 0.2, 0.2, 0.2,
    0.2, 0.2, 0.2, 0.2, 0.25, 0.25, 0.25, 0.2, 0.25, 0.3,
    0.25, 0.2, 0.25, 0.2, 0.25, 0.2, 0.2, 0.2, 0.2, 0.2,
    0.2, 0.2, 0.2, 0.25,
    0.15, 0.15, 0.15, 0.15, 0.2, 0.15, 0.15, 0.2, 0.2, 0.15,
    0.2, 0.15, 0.2, 0.15, 0.2, 0.2, 0.15, 0.2, 0.15, 0.2,
    0.2, 0.2, 0.2, 0.2, 0.2, 0.2, 0.2, 0.2, 0.2, 0.2,
    0.2, 0.2, 0.2, 0.2, 0.2,
    0.25, 0.25, 0.25,
    0.25, 0.3, 0.25, 0.3, 0.25, 0.25, 0.2, 0.25, 0.2, 0.25,
    0.2, 0.25, 0.3, 0.2, 0.25, 0.25, 0.2, 0.25, 0.2, 0.25,
    0.25, 0.2, 0.25, 0.25, 0.25, 0.2, 0.25, 0.25, 0.25, 0.2,
    0.25, 0.25, 0.2, 0.25, 0.25, 0.2, 0.2, 0.25, 0.2, 0.2,
    0.2, 0.2, 0.2, 0.2, 0.2, 0.2, 0.2, 0.2, 0.2, 0.2,
    0.15, 0.2, 0.15, 0.2, 0.15, 0.2, 0.15, 0.2, 0.15, 0.2,
    0.15, 0.15, 0.15, 0.15, 0.2, 0.15, 0.15, 0.15, 0.15, 0.15,
    0.15, 0.15, 0.15, 0.15, 0.2, 0.2, 0.15, 0.2, 0.2, 0.2,
    0.2, 0.2,
    0.3, 0.3, 0.3, 0.3, 0.3, 0.3, 0.25, 0.3, 0.25, 0.25,
    0.25, 0.25, 0.2, 0.25, 0.25, 0.2, 0.25, 0.25, 0.25, 0.25,
    0.2, 0.25, 0.25, 0.3, 0.25, 0.25, 0.25, 0.25, 0.25, 0.25,
    0.25, 0.25, 0.25, 0.25, 0.25, 0.25, 0.2, 0.25, 0.2, 0.25,
    0.2, 0.2, 0.2, 0.2, 0.25, 0.2, 0.2, 0.2, 0.2, 0.2,
    0.2, 0.2, 0.15, 0.2, 0.2, 0.2, 0.15, 0.2, 0.15, 0.2,
    0.15, 0.2, 0.2, 0.2, 0.2, 0.2, 0.15, 0.2, 0.2, 0.15,
    0.2, 0.15, 0.2, 0.2, 0.15, 0.2, 0.15, 0.2, 0.2, 0.2,
    0.2, 0.2, 0.2, 0.3, 0.3, 0.3, 0.3,
]

# ---------------- (d) ClONO2, 1e15 molec cm-2 ----------------
red_clono2_start = 2007.08
red_clono2 = [
    0.53, 0.55,
    0.5, 0.48, 0.5, 0.58, 0.7, 0.85, 0.95, 1.6, 1.3, 1.35,
    1.3, 1.4, 1.25, 1.15, 1.05, 0.98, 0.95, 0.92, 0.9, 0.92,
    0.93, 0.92, 0.9, 0.88, 0.85, 0.84, 0.83, 0.82, 0.8, 0.79,
    0.78, 0.77, 0.78, 0.77, 0.76, 0.77, 0.75, 0.72, 0.7, 0.68,
    0.66, 0.64, 0.62, 0.6, 0.58, 0.55, 0.53, 0.51, 0.5, 0.49,
    0.48, 0.47, 0.47, 0.46, 0.47, 0.46, 0.47, 0.47, 0.48, 0.47,
    0.48, 0.49, 0.5, 0.5, 0.51, 0.52, 0.53, 0.53, 0.55, 0.56,
    0.57, 0.58, 0.59, 0.6, 0.6, 0.61, 0.62, 0.63, 0.63, 0.64,
    0.66, 0.68, 0.64, 0.6, 0.57, 0.53, 0.5, 0.47, 0.45, 0.44,
    0.46, 0.47, 0.44, 0.42, 0.48, 0.5, 0.44, 0.42, 0.46, 0.48,
    0.47, 0.5, 0.53, 0.62, 0.86, 1.0, 1.13, 1.1, 1.05, 1.0,
    0.97, 0.93, 0.91, 0.88, 0.86, 0.85, 0.83, 0.81, 0.8, 0.78,
    0.77, 0.76, 0.75, 0.73, 0.71, 0.7, 0.69, 0.69, 0.68, 0.68,
    0.67, 0.67, 0.66, 0.66, 0.65, 0.65, 0.64, 0.64, 0.63, 0.62,
    0.62, 0.61, 0.62, 0.63, 0.62, 0.61, 0.6, 0.61, 0.6, 0.6,
    0.58, 0.58, 0.57, 0.57, 0.56, 0.55, 0.55, 0.55, 0.54, 0.53,
    0.53, 0.52, 0.5, 0.48, 0.47, 0.48, 0.5, 0.52, 0.55, 0.58,
    0.6, 0.63, 0.65, 0.66, 0.68, 0.7, 0.68, 0.65, 0.62, 0.64,
    0.69, 0.72, 0.77, 0.7, 0.65, 0.63, 0.64, 0.66, 0.64, 0.62,
    0.6, 0.55, 0.52, 0.5, 0.5, 0.55, 0.62, 0.66, 0.55, 0.47,
    0.5, 0.55, 0.62, 0.69, 0.78, 0.86, 0.92, 0.97, 1.05, 0.95,
    0.9, 1.0, 1.02, 0.95, 1.08, 1.13, 1.0, 0.92, 0.9, 0.92,
    0.93, 0.91, 0.9, 0.91, 0.88, 0.87, 0.86, 0.85, 0.83, 0.82,
    0.8, 0.79, 0.77, 0.76, 0.75, 0.74, 0.73, 0.72, 0.72, 0.71,
    0.7, 0.7, 0.69, 0.68, 0.67, 0.67, 0.66, 0.65, 0.65, 0.64,
    0.64, 0.63, 0.62, 0.62, 0.61, 0.61,
]
ftir_clono2_year = [
    2007.153, 2007.156, 2007.160, 2007.163, 2007.166, 2007.170, 2007.173, 2007.177, 2007.180, 2007.183,
    2007.186, 2007.189, 2007.192, 2007.195, 2007.198, 2007.202, 2007.205, 2007.208, 2007.212, 2007.215,
    2007.218, 2007.221, 2007.224, 2007.228, 2007.231, 2007.234, 2007.238, 2007.241, 2007.244, 2007.248,
    2007.250, 2007.255, 2007.258, 2007.262, 2007.266, 2007.270, 2007.274, 2007.278,
    2007.300, 2007.303, 2007.306, 2007.309, 2007.312, 2007.315, 2007.318, 2007.321, 2007.324, 2007.328,
    2007.332, 2007.336, 2007.342, 2007.350, 2007.360, 2007.370, 2007.386,
    2007.493, 2007.497, 2007.500, 2007.503, 2007.507, 2007.512, 2007.516, 2007.520, 2007.524, 2007.530,
    2007.536, 2007.542, 2007.546, 2007.550, 2007.554, 2007.558, 2007.562, 2007.567, 2007.572, 2007.578,
    2007.584, 2007.590, 2007.596, 2007.602, 2007.608, 2007.614, 2007.620, 2007.626, 2007.632, 2007.638,
    2007.644, 2007.650, 2007.656, 2007.662, 2007.668, 2007.674, 2007.680, 2007.686, 2007.692, 2007.755,
    2007.784,
    2008.142, 2008.145, 2008.148, 2008.151, 2008.154, 2008.157, 2008.160, 2008.163, 2008.166, 2008.169,
    2008.172, 2008.175, 2008.178, 2008.181, 2008.185, 2008.189, 2008.193, 2008.197, 2008.201, 2008.205,
    2008.209, 2008.213, 2008.217, 2008.221, 2008.225, 2008.229, 2008.233, 2008.237, 2008.241, 2008.245,
    2008.250, 2008.254, 2008.258, 2008.262, 2008.266, 2008.270, 2008.275, 2008.280, 2008.285, 2008.290,
    2008.295, 2008.300, 2008.305, 2008.310, 2008.315, 2008.320, 2008.325, 2008.330, 2008.335, 2008.340,
    2008.345, 2008.350, 2008.360, 2008.365, 2008.370, 2008.375, 2008.380, 2008.390, 2008.395, 2008.400,
    2008.410, 2008.415, 2008.420, 2008.425, 2008.430, 2008.440, 2008.445, 2008.450, 2008.455, 2008.460,
    2008.465, 2008.470, 2008.475, 2008.480, 2008.485, 2008.490, 2008.495, 2008.500, 2008.505, 2008.510,
    2008.515, 2008.520, 2008.525, 2008.530, 2008.540, 2008.550, 2008.555, 2008.560, 2008.565, 2008.570,
    2008.575, 2008.580, 2008.600, 2008.610, 2008.625, 2008.630, 2008.635, 2008.640, 2008.645, 2008.650,
    2008.655, 2008.660, 2008.665, 2008.670, 2008.675, 2008.680, 2008.685, 2008.690, 2008.705,
    2009.140, 2009.143, 2009.146, 2009.149, 2009.152, 2009.155, 2009.158, 2009.161, 2009.164, 2009.167,
    2009.170, 2009.173, 2009.176, 2009.179, 2009.182, 2009.185, 2009.188, 2009.191, 2009.194, 2009.197,
    2009.200, 2009.204, 2009.208, 2009.212, 2009.216, 2009.220, 2009.224, 2009.228, 2009.232, 2009.236,
    2009.240, 2009.244, 2009.248, 2009.252, 2009.256, 2009.260, 2009.264, 2009.268, 2009.272, 2009.276,
    2009.280, 2009.284, 2009.288, 2009.292, 2009.296, 2009.300, 2009.304, 2009.308, 2009.312, 2009.316,
    2009.320, 2009.324, 2009.330, 2009.336, 2009.340, 2009.348, 2009.360, 2009.372, 2009.380, 2009.386,
    2009.392, 2009.398, 2009.404, 2009.410, 2009.416, 2009.422, 2009.428, 2009.434, 2009.440, 2009.446,
    2009.452, 2009.458, 2009.464, 2009.470, 2009.476, 2009.500, 2009.506, 2009.512, 2009.518, 2009.524,
    2009.530, 2009.536, 2009.542, 2009.548, 2009.554, 2009.560, 2009.566, 2009.572, 2009.578, 2009.584,
    2009.590, 2009.596, 2009.602, 2009.608, 2009.614, 2009.620, 2009.626, 2009.632, 2009.638, 2009.644,
    2009.650, 2009.715, 2009.720, 2009.724, 2009.728,
]
ftir_clono2_val = [
    1.8, 1.75, 2.1, 2.25, 2.45, 2.9, 2.7, 3.5, 3.9, 4.05,
    4.2, 3.85, 4.55, 4.7, 4.35, 4.1, 3.95, 3.75, 3.9, 3.6,
    3.8, 3.35, 4.0, 4.4, 4.2, 3.7, 3.2, 2.9, 2.7, 2.3,
    2.05, 1.5, 1.35, 2.95, 3.05, 3.1, 2.9, 1.2,
    2.3, 2.05, 1.85, 1.65, 1.4, 2.1, 1.2, 1.0, 0.85, 0.6,
    0.5, 0.35, 0.45, 0.3, 0.55, 0.9, 1.55,
    2.5, 1.0, 0.2, 0.25, 0.1, 0.6, 1.35, 1.0, 0.58, 0.3,
    1.5, 2.34, 1.9, 1.15, 0.8, 0.47, 0.9, 0.09, 0.58, 0.75,
    1.1, 0.85, 0.5, 0.7, 1.0, 0.4, 0.6, 0.9, 0.5, 0.75,
    1.0, 0.6, 0.15, 0.8, 0.4, 0.7, 0.95, 0.6, 0.5, 0.91,
    1.02,
    3.45, 3.3, 3.8, 3.65, 4.05, 4.45, 3.55, 3.1, 2.9, 2.6,
    2.4, 2.2, 1.75, 1.45, 1.9, 1.25, 1.6, 1.05, 1.8, 1.4,
    1.2, 1.65, 2.25, 1.5, 1.1, 1.35, 0.95, 1.7, 1.25, 2.1,
    1.0, 1.45, 1.7, 1.25, 0.95, 1.35, 1.8, 1.1, 0.9, 1.45,
    1.2, 0.8, 1.35, 0.9, 1.1, 0.75, 1.3, 1.0, 0.55, 1.25,
    0.85, 0.3, 0.8, 1.0, 2.1, 0.7, 0.5, 1.0, 0.6, 0.85,
    1.25, 0.7, 1.05, 0.9, 0.4, 1.3, 0.8, 1.05, 0.5, 1.25,
    0.9, 1.4, 0.65, 1.1, 1.9, 0.45, 0.9, 1.25, 0.6, 1.5,
    0.8, 1.05, 0.5, 1.3, 0.9, 1.85, 1.3, 1.0, 0.5, 0.4,
    0.3, 0.7, 0.55, 0.3, 1.9, 1.35, 1.05, 0.8, 0.6, 1.2,
    0.9, 0.5, 1.0, 0.7, 0.9, 1.2, 0.8, 1.0, 1.0,
    3.0, 2.7, 2.5, 3.2, 2.15, 1.9, 1.7, 3.45, 3.55, 3.3,
    3.0, 2.8, 2.4, 2.1, 1.85, 1.65, 1.45, 1.25, 1.95, 1.55,
    1.35, 1.75, 1.1, 1.5, 0.55, 1.7, 1.9, 1.45, 1.25, 1.65,
    1.85, 1.4, 1.1, 1.6, 1.95, 1.2, 1.5, 1.05, 1.8, 1.35,
    2.0, 1.15, 1.65, 2.1, 1.3, 1.9, 1.0, 1.55, 2.15, 1.2,
    1.7, 0.9, 1.4, 0.75, 1.1, 0.6, 1.2, 0.8, 1.1, 1.4,
    0.6, 1.6, 1.0, 0.2, 1.35, 0.8, 1.7, 0.45, 1.2, 0.14,
    1.0, 1.5, 0.7, 1.3, 0.9, 0.7, 2.05, 1.4, 0.3, 1.1,
    0.25, 1.7, 0.8, 1.3, 0.5, 1.05, 1.85, 0.25, 1.6, 0.9,
    0.14, 1.35, 0.6, 1.0, 0.45, 1.15, 0.8, 0.35, 1.3, 0.55,
    0.8, 1.15, 1.3, 0.9, 0.5,
]
ftir_clono2_err = [
    0.1, 0.1, 0.12, 0.12, 0.15, 0.15, 0.15, 0.2, 0.2, 0.2,
    0.2, 0.2, 0.2, 0.2, 0.2, 0.2, 0.2, 0.2, 0.2, 0.2,
    0.2, 0.2, 0.2, 0.2, 0.2, 0.2, 0.2, 0.15, 0.15, 0.15,
    0.15, 0.15, 0.15, 0.15, 0.15, 0.15, 0.15, 0.1,
    0.9, 1.0, 1.0, 1.2, 1.2, 1.3, 1.3, 1.1, 1.0, 0.3,
    0.2, 0.15, 0.2, 0.1, 0.3, 0.5, 0.75,
    1.25, 0.5, 0.3, 0.3, 0.2, 0.4, 0.5, 0.6, 0.5, 0.3,
    0.6, 1.15, 0.9, 0.8, 0.6, 0.5, 0.5, 0.2, 0.4, 0.5,
    0.6, 0.6, 0.5, 0.5, 0.6, 0.4, 0.5, 0.6, 0.4, 0.5,
    0.55, 0.45, 0.3, 0.5, 0.4, 0.45, 0.5, 0.4, 0.35, 0.45,
    0.48,
    0.2, 0.2, 0.2, 0.2, 0.2, 0.2, 0.2, 0.2, 0.2, 0.2,
    0.2, 0.2, 0.3, 0.3, 0.3, 0.3, 0.3, 0.3, 0.3, 0.35,
    0.4, 0.4, 0.35, 0.4, 0.4, 0.5, 0.5, 0.5, 0.6, 0.5,
    0.6, 0.6, 0.6, 0.6, 0.5, 0.6, 0.6, 0.6, 0.5, 0.6,
    0.6, 0.5, 0.6, 0.5, 0.6, 0.5, 0.6, 0.6, 0.4, 0.5,
    0.5, 0.3, 0.5, 0.6, 1.2, 0.5, 0.4, 0.5, 0.4, 0.5,
    0.6, 0.5, 0.6, 0.5, 0.4, 0.7, 0.5, 0.6, 0.4, 0.6,
    0.5, 0.7, 0.5, 0.6, 1.1, 0.4, 0.6, 0.6, 0.5, 0.7,
    0.6, 0.6, 0.4, 0.6, 0.5, 0.9, 0.7, 0.6, 0.5, 0.4,
    0.3, 0.4, 0.4, 0.3, 1.0, 0.7, 0.6, 0.5, 0.4, 0.6,
    0.5, 0.4, 0.5, 0.4, 0.5, 0.6, 0.5, 0.5, 0.95,
    0.2, 0.2, 0.2, 0.2, 0.2, 0.2, 0.2, 0.2, 0.2, 0.2,
    0.2, 0.25, 0.3, 0.3, 0.3, 0.35, 0.35, 0.35, 0.4, 0.4,
    0.4, 0.4, 0.35, 0.4, 0.05, 0.4, 0.4, 0.4, 0.4, 0.4,
    0.45, 0.45, 0.45, 0.5, 0.7, 0.8, 0.9, 0.9, 1.0, 1.0,
    1.0, 0.9, 1.0, 1.1, 0.9, 1.0, 0.8, 0.9, 1.1, 0.7,
    0.6, 0.6, 0.6, 0.5, 0.6, 0.5, 0.6, 0.5, 0.6, 0.7,
    0.5, 0.9, 0.6, 0.3, 0.7, 0.6, 0.8, 0.4, 0.7, 0.2,
    0.6, 0.7, 0.5, 0.7, 0.6, 0.5, 0.8, 0.7, 0.3, 0.6,
    0.3, 1.3, 0.5, 0.6, 0.4, 0.6, 0.9, 0.3, 1.1, 0.5,
    0.2, 0.7, 0.5, 0.6, 0.4, 0.6, 0.5, 0.3, 0.6, 0.4,
    0.5, 0.5, 0.5, 0.4, 0.3,
]

panels = [
    dict(red0=red_no_start, red=red_no, xy=None, xv=None,
         fy=ftir_no_year, fv=ftir_no_val, fe=ftir_no_err,
         pos=[100, 16, 612, 350], ymax=8, ymaj=2, ymin=0.5, exp=15,
         title='(a) NO', tx=0.234),
    dict(red0=red_no2_start, red=red_no2, xy=None, xv=None,
         fy=ftir_no2_year, fv=ftir_no2_val, fe=ftir_no2_err,
         pos=[747, 16, 1262, 350], ymax=7, ymaj=1, ymin=0.1, exp=15,
         title='(b) NO$_2$', tx=0.035),
    dict(red0=red_hno3_start, red=red_hno3, xy=red_hno3_extra_year, xv=red_hno3_extra_val,
         fy=ftir_hno3_year, fv=ftir_hno3_val, fe=ftir_hno3_err,
         pos=[100, 448, 612, 782], ymax=4, ymaj=1, ymin=0.1, exp=16,
         title='(c) HNO$_3$', tx=0.033),
    dict(red0=red_clono2_start, red=red_clono2, xy=None, xv=None,
         fy=ftir_clono2_year, fv=ftir_clono2_val, fe=ftir_clono2_err,
         pos=[747, 448, 1262, 782], ymax=5.5, ymaj=1, ymin=0.1, exp=15,
         title='(d) ClONO$_2$', tx=0.091),
]

W, H = 1293, 829
fig = plt.figure(figsize=(W / 100, H / 100), dpi=100)


def sci_label(exp):
    def fmt(v, pos):
        if abs(v) < 1e-9:
            return '0'
        return '%d\u202210$^{%d}$' % (round(v), exp)
    return FuncFormatter(fmt)


for p in panels:
    x0, y0, x1, y1 = p['pos']
    ax = fig.add_axes([x0 / W, 1 - y1 / H, (x1 - x0) / W, (y1 - y0) / H])

    ry = np.array(p['red'])
    rx = p['red0'] + STEP * np.arange(len(ry))
    ax.plot(rx, ry, 'o', color='red', ms=4.8, mec='none', zorder=1)
    if p['xy'] is not None:
        ax.plot(p['xy'], p['xv'], 'o', color='red', ms=4.8, mec='none', zorder=1)

    ax.errorbar(p['fy'], p['fv'], yerr=p['fe'], fmt='none', ecolor='black',
                elinewidth=1.2, capsize=2.5, capthick=1.2, zorder=2)
    ax.plot(p['fy'], p['fv'], 'o', color='cyan', ms=5.0, mec='none', zorder=3)

    ax.set_xlim(2007.0, 2010.0)
    ax.set_ylim(0, p['ymax'])
    ax.xaxis.set_major_locator(MultipleLocator(0.5))
    ax.xaxis.set_minor_locator(MultipleLocator(1 / 12))
    ax.xaxis.set_major_formatter(FuncFormatter(lambda v, pos: '%.1f' % v))
    ax.yaxis.set_major_locator(MultipleLocator(p['ymaj']))
    ax.yaxis.set_minor_locator(MultipleLocator(p['ymin']))
    ax.yaxis.set_major_formatter(sci_label(p['exp']))
    ax.tick_params(which='both', direction='in', top=True, right=True, width=1.0)
    ax.tick_params(which='major', length=7)
    ax.tick_params(which='minor', length=3.5)
    ax.tick_params(axis='x', labelsize=14, pad=8)
    ax.tick_params(axis='y', labelsize=13, pad=4)
    for s in ax.spines.values():
        s.set_linewidth(1.1)

    ax.set_xlabel('Year', fontsize=14, labelpad=0.5)
    ax.set_ylabel('Column (molec cm$^{-2}$)', fontsize=13)
    ax.yaxis.set_label_coords(-0.14, 0.5)

    ax.text(p['tx'], 0.895, p['title'], transform=ax.transAxes, fontsize=20,
            ha='left', va='center')

    if p['title'] == '(a) NO':
        ax.text(0.736, 0.892, 'FTIR', color='cyan', fontsize=14,
                transform=ax.transAxes, ha='left', va='center')
        ax.text(0.736, 0.832, 'CMAM-DAS', color='red', fontsize=14,
                transform=ax.transAxes, ha='left', va='center')

fig.savefig('out.png', dpi=100)
